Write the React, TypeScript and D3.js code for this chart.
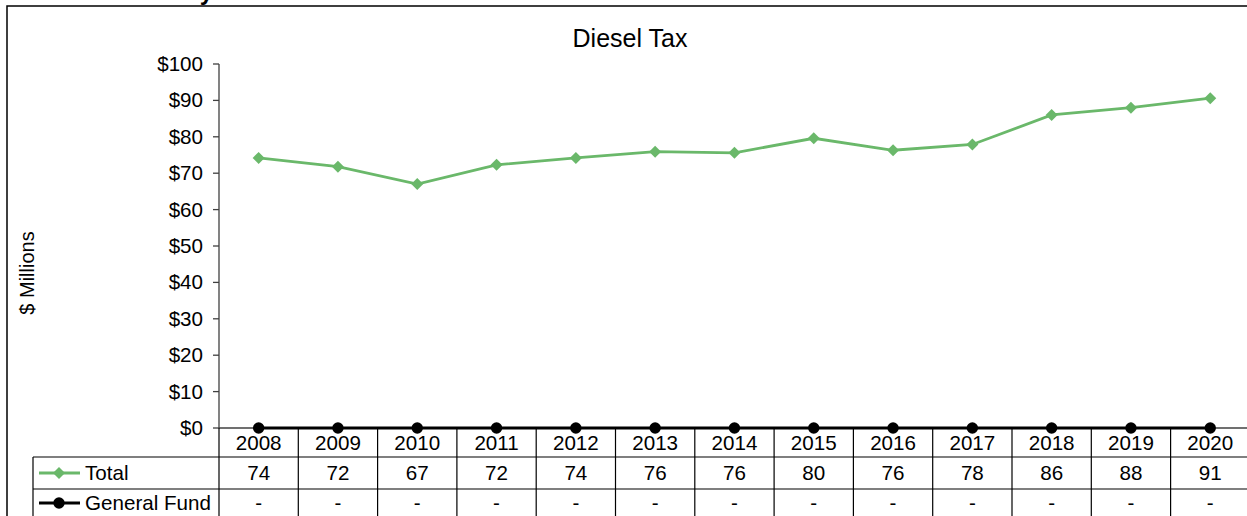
import React from "react";
import * as d3 from "d3";

const years = ["2008","2009","2010","2011","2012","2013","2014","2015","2016","2017","2018","2019","2020"];
const totalValues = [74.2, 71.8, 67.0, 72.3, 74.2, 75.9, 75.6, 79.6, 76.3, 77.9, 86.0, 88.0, 90.6];
const generalFundValues = [0,0,0,0,0,0,0,0,0,0,0,0,0];
const yTicks = [0,10,20,30,40,50,60,70,80,90,100];
const seriesNames = ["Total", "General Fund"];
const chartTitle = "Diesel Tax";
const yAxisTitle = "$ Millions";

const GREEN = "#6AB86A";
const FONT = "'Liberation Sans', Arial, sans-serif";
const FS = 20.6;

export default function App() {
  const W = 1247, H = 516;
  const plotLeft = 219;
  const band = 79.3;
  const x = d3.scaleBand<string>().domain(years).range([plotLeft, plotLeft + band * years.length]).padding(0);
  const y = d3.scaleLinear().domain([0, 100]).range([428, 64]);
  const cx = (yr: string) => (x(yr) as number) + x.bandwidth() / 2;
  const line = d3.line<number>().x((_, i) => cx(years[i])).y((v) => y(v));
  const fmt = d3.format("$,.0f");
  const tableRight = plotLeft + band * years.length;
  const rowTop = y(0);
  const row1 = 457, row2 = 489, rowEnd = 530;
  const diamond = (px: number, py: number, r: number) => `M${px},${py - r}L${px + r},${py}L${px},${py + r}L${px - r},${py}Z`;

  return (
    <svg width={W} height={H} style={{ position: "absolute", left: 0, top: 0, background: "#fff" }} fontFamily={FONT}>
      <rect x={0} y={0} width={W} height={H} fill="#fff" />
      {/* cut-off page heading (only its descender is visible in the reference) */}
      <text x={213} y={0} textAnchor="end" fontSize={24} fontWeight="bold" fill="#000">History</text>
      {/* chart border */}
      <rect x={7} y={6} width={W + 20} height={H + 20} fill="none" stroke="#000" strokeWidth={1.5} />
      {/* title */}
      <text x={630} y={47} textAnchor="middle" fontSize={25} fill="#000">{chartTitle}</text>
      {/* y axis title */}
      <text transform={`translate(34,273) rotate(-90)`} textAnchor="middle" fontSize={20} fill="#000">{yAxisTitle}</text>
      {/* y axis */}
      <line x1={plotLeft} x2={plotLeft} y1={y(100)} y2={y(0)} stroke="#404040" strokeWidth={1.3} />
      {yTicks.map((t) => (
        <g key={t}>
          <line x1={plotLeft - 6} x2={plotLeft} y1={y(t)} y2={y(t)} stroke="#404040" strokeWidth={1.3} />
          <text x={203} y={y(t) + 7} textAnchor="end" fontSize={FS} fill="#000">{fmt(t)}</text>
        </g>
      ))}
      {/* x axis */}
      <line x1={plotLeft} x2={tableRight} y1={rowTop} y2={rowTop} stroke="#404040" strokeWidth={1.3} />
      {/* data table grid */}
      {years.map((yr) => (
        <line key={"v" + yr} x1={(x(yr) as number) + band} x2={(x(yr) as number) + band} y1={rowTop} y2={rowEnd} stroke="#000" strokeWidth={1.2} />
      ))}
      <line x1={plotLeft} x2={plotLeft} y1={rowTop} y2={rowEnd} stroke="#000" strokeWidth={1.2} />
      <line x1={33} x2={33} y1={row1} y2={rowEnd} stroke="#000" strokeWidth={1.2} />
      <line x1={33} x2={tableRight} y1={row1} y2={row1} stroke="#000" strokeWidth={1.2} />
      <line x1={33} x2={tableRight} y1={row2} y2={row2} stroke="#000" strokeWidth={1.2} />
      {/* year labels */}
      {years.map((yr) => (
        <text key={"yr" + yr} x={cx(yr)} y={450} textAnchor="middle" fontSize={FS} fill="#000">{yr}</text>
      ))}
      {/* total values */}
      {years.map((yr, i) => (
        <text key={"tv" + yr} x={cx(yr)} y={480} textAnchor="middle" fontSize={FS} fill="#000">{d3.format(".0f")(totalValues[i])}</text>
      ))}
      {years.map((yr, i) => (
        <text key={"gv" + yr} x={cx(yr)} y={510} textAnchor="middle" fontSize={FS} fill="#000">{generalFundValues[i] === 0 ? "-" : d3.format(".0f")(generalFundValues[i])}</text>
      ))}
      {/* legend keys */}
      <line x1={39} x2={80} y1={473} y2={473} stroke={GREEN} strokeWidth={2.8} />
      <path d={diamond(59, 473, 6)} fill={GREEN} />
      <text x={85} y={480} fontSize={FS} fill="#000">{seriesNames[0]}</text>
      <line x1={39} x2={80} y1={503} y2={503} stroke="#000" strokeWidth={2.8} />
      <circle cx={59} cy={503} r={5.7} fill="#000" />
      <text x={85} y={510} fontSize={FS} fill="#000">{seriesNames[1]}</text>
      {/* general fund series */}
      <path d={line(generalFundValues) || ""} fill="none" stroke="#000" strokeWidth={3} />
      {generalFundValues.map((v, i) => (
        <circle key={"gc" + i} cx={cx(years[i])} cy={y(v)} r={5.7} fill="#000" />
      ))}
      {/* total series */}
      <path d={line(totalValues) || ""} fill="none" stroke={GREEN} strokeWidth={2.8} />
      {totalValues.map((v, i) => (
        <path key={"td" + i} d={diamond(cx(years[i]), y(v), 6)} fill={GREEN} />
      ))}
    </svg>
  );
}
